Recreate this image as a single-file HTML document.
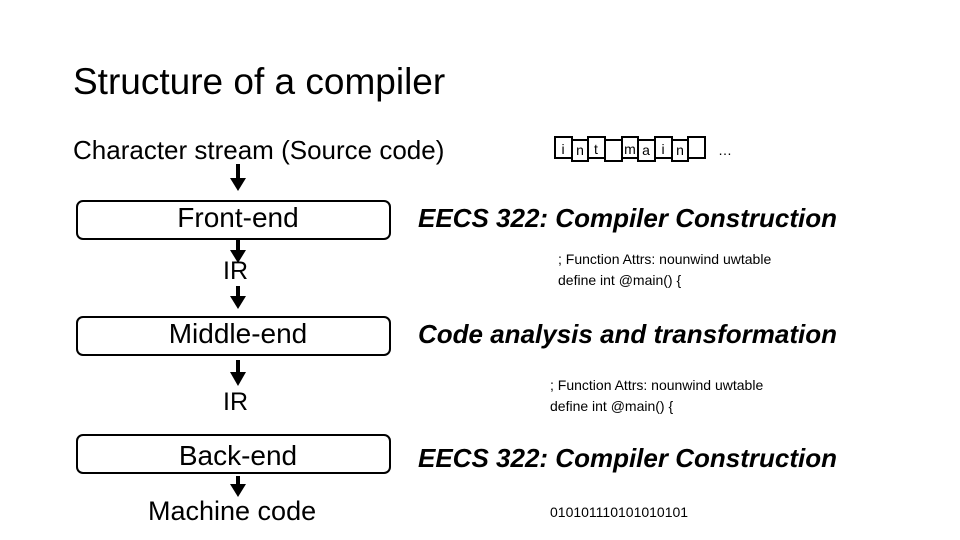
<!DOCTYPE html>
<html><head><style>
body{margin:0;width:960px;height:540px;background:#fff;position:relative;overflow:hidden;font-family:"Liberation Sans",sans-serif;color:#000}
.t{position:absolute;white-space:nowrap;line-height:1}
.box{position:absolute;left:76px;width:311px;height:36px;border:2.5px solid #000;border-radius:7px}
.b{font-weight:bold;font-style:italic}
</style></head><body>
<div class="t" style="left:73px;top:63px;font-size:37px">Structure of a compiler</div>
<div class="t" style="left:73px;top:137px;font-size:26px">Character stream (Source code)</div>
<div class="box" style="top:200px"></div>
<div class="box" style="top:316px"></div>
<div class="box" style="top:434px"></div>
<div class="t" style="left:0;width:476px;text-align:center;top:204px;font-size:28px">Front-end</div>
<div class="t" style="left:0;width:476px;text-align:center;top:320px;font-size:28px">Middle-end</div>
<div class="t" style="left:0;width:476px;text-align:center;top:442px;font-size:28px">Back-end</div>
<div class="t" style="left:223px;top:259px;font-size:25px">IR</div>
<div class="t" style="left:223px;top:390px;font-size:25px">IR</div>
<div class="t" style="left:148px;top:498px;font-size:27px">Machine code</div>
<svg width="960" height="540" style="position:absolute;left:0;top:0">
<g fill="#000" stroke="#000" stroke-width="4">
<line x1="238" y1="164" x2="238" y2="180"/><line x1="238" y1="240" x2="238" y2="252"/>
<line x1="238" y1="286" x2="238" y2="298"/><line x1="238" y1="360" x2="238" y2="374"/>
<line x1="238" y1="476" x2="238" y2="486"/>
</g>
<g fill="#000">
<polygon points="230,178 246,178 238,191"/><polygon points="230,250 246,250 238,263"/>
<polygon points="230,296 246,296 238,309"/><polygon points="230,372 246,372 238,386"/>
<polygon points="230,484 246,484 238,497"/>
</g>
<g fill="none" stroke="#000" stroke-width="2">
<rect x="555" y="137" width="17" height="21"/><rect x="572" y="140" width="16" height="21"/>
<rect x="588" y="137" width="17" height="21"/><rect x="605" y="140" width="17" height="21"/>
<rect x="622" y="137" width="16" height="21"/><rect x="638" y="140" width="17" height="21"/>
<rect x="655" y="137" width="17" height="21"/><rect x="672" y="140" width="16" height="21"/>
<rect x="688" y="137" width="17" height="21"/>
</g>
<g font-family="Liberation Sans" font-size="14" text-anchor="middle">
<text x="563" y="154">i</text><text x="580" y="155">n</text><text x="596" y="154">t</text>
<text x="630" y="154">m</text><text x="646" y="155">a</text><text x="663" y="154">i</text><text x="680" y="155">n</text>
<text x="725" y="155">…</text>
</g>
</svg>
<div class="t b" style="left:418px;top:205px;font-size:26px">EECS 322: Compiler Construction</div>
<div class="t" style="left:558px;top:249px;font-size:14px;line-height:21px">; Function Attrs: nounwind uwtable<br>define int @main() {</div>
<div class="t b" style="left:418px;top:321px;font-size:26px">Code analysis and transformation</div>
<div class="t" style="left:550px;top:375px;font-size:14px;line-height:21px">; Function Attrs: nounwind uwtable<br>define int @main() {</div>
<div class="t b" style="left:418px;top:445px;font-size:26px">EECS 322: Compiler Construction</div>
<div class="t" style="left:550px;top:505px;font-size:14px">010101110101010101</div>
</body></html>
